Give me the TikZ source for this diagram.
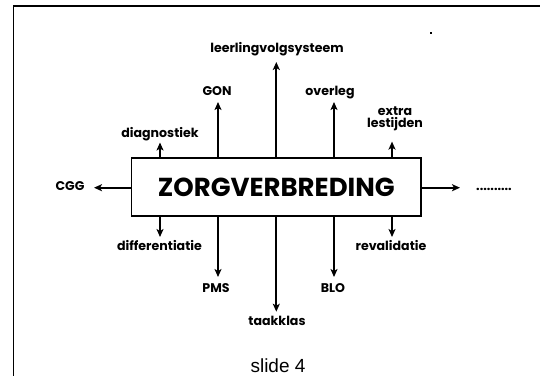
\documentclass[tikz,border=0pt]{standalone}
\usepackage{fontspec}
\setmainfont{Poppins}
\newfontfamily\slidefont{Liberation Sans}
\usetikzlibrary{arrows.meta}
\tikzset{
  lab/.style={font=\fontsize{12.6}{12.5}\selectfont\bfseries, inner sep=0pt, text height=9pt, text depth=2.5pt, align=center},
  arr/.style={line width=2pt, -{Stealth[length=8pt,width=7pt,inset=2pt]}},
  mainbox/.style={draw, line width=1.4pt, minimum width=289.3pt, minimum height=58pt, inner sep=0pt,
    font=\fontsize{26}{28}\selectfont\bfseries},
}
\begin{document}
\begin{tikzpicture}[x=1pt,y=-1pt]
\useasboundingbox (0,0) rectangle (540,376);
% frame
\coordinate (fr1) at (540,6);
\coordinate (fr2) at (13.7,6);
\coordinate (fr3) at (13.7,376);
\draw[line width=1.2pt] (fr1) -- (fr2) -- (fr3);
\fill (429.7,32.3) rectangle (431.7,34.3);
% box
\node[mainbox] (box) at (276.3,187) {ZORGVERBREDING};
% top tips
\coordinate (t1) at (160,142.5);
\coordinate (t2) at (218,102);
\coordinate (t3) at (276.3,62);
\coordinate (t4) at (334,102);
\coordinate (t5) at (392,141.6);
% bottom tips
\coordinate (b1) at (160,237);
\coordinate (b2) at (218,277);
\coordinate (b3) at (276.3,311.7);
\coordinate (b4) at (334,277);
\coordinate (b5) at (392,237);
% side tips
\coordinate (l1) at (94,187.7);
\coordinate (r1) at (460,187.7);
% labels
\node[lab] (diag) at (160,134) {diagnostiek};
\node[lab] (gon) at (217,92) {GON};
\node[lab] (lvs) at (277,49.5) {leerlingvolgsysteem};
\node[lab] (overleg) at (330,92.5) {overleg};
\node[lab] (extra) at (395,124.5) {extra\\lestijden};
\node[lab] (diff) at (159.5,247.6) {differentiatie};
\node[lab] (pms) at (216,289) {PMS};
\node[lab] (taak) at (277,322.7) {taakklas};
\node[lab] (blo) at (333,289) {BLO};
\node[lab] (reval) at (391,247.6) {revalidatie};
\node[lab] (cgg) at (70,187.7) {CGG};
\node[lab] (dots) at (494,187.7) {..........};
\node[font=\slidefont\fontsize{19}{20}\selectfont, inner sep=0pt] (slide) at (278,366) {slide 4};
% arrows
\foreach \t in {t1,t2,t3,t4,t5}{\draw[arr] (box.north -| \t) -- (\t);}
\foreach \t in {b1,b2,b3,b4,b5}{\draw[arr] (box.south -| \t) -- (\t);}
\draw[arr] (box.west |- l1) -- (l1);
\draw[arr] (box.east |- r1) -- (r1);
\end{tikzpicture}
\end{document}
